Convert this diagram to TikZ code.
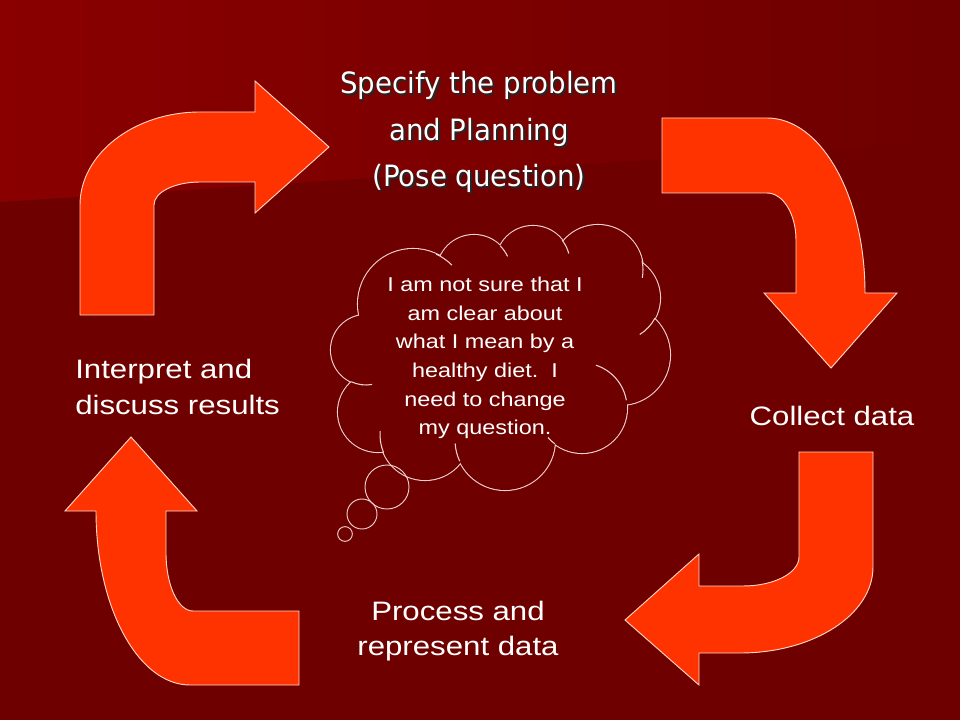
\documentclass[tikz,border=0pt]{standalone}
\usepackage{fontspec}
\setmainfont{Liberation Sans}
\newfontfamily\widesans[FakeStretch=1.17]{Liberation Sans}
\newfontfamily\cloudsans[FakeStretch=1.17]{Liberation Sans}
\newfontfamily\titlesans[FakeStretch=0.94]{DejaVu Sans}
\usepackage{xcolor}
\usepackage{tikz}
\definecolor{slidetop}{HTML}{8A0000}
\definecolor{slidebg}{HTML}{6E0000}
\definecolor{arrowfill}{HTML}{FF3300}
\definecolor{arrowedge}{HTML}{FFD5C8}
\definecolor{cloudedge}{HTML}{F2D2D2}

\begin{document}
\begin{tikzpicture}[x=0.75pt, y=-0.75pt,
    bentarrow/.style={fill=arrowfill, draw=arrowedge, line width=0.7pt},
    stage/.style={text=white, inner sep=0pt, font=\widesans\fontsize{20}{26.3}\selectfont},
    thought/.style={text=white, inner sep=0pt, align=center, font=\cloudsans\fontsize{15}{21.5}\selectfont},
    headline/.style={inner sep=0pt, align=center, font=\titlesans\fontsize{22}{34.9}\selectfont},
    bubble/.style={circle, draw=cloudedge, line width=0.7pt, inner sep=0pt}]
        \useasboundingbox (0,0) rectangle (960,720);
        \fill[slidebg] (0,0) rectangle (960,720);
        \shade[left color=slidetop, right color=slidebg] (0,0) -- (960,0) -- (960,140) -- (0,202) -- cycle;

        \draw[bentarrow] (80,315) -- (80,205) .. controls (80,154) and (134,112) .. (200,112) -- (255,112) -- (255,81) -- (329,147) -- (255,213) -- (255,182) -- (200,182) .. controls (175,182) and (154,192) .. (154,205) -- (154,315) -- cycle;
        \draw[bentarrow] (662,118) -- (767,118) .. controls (821,118) and (865,196) .. (865,293) -- (897,293) -- (831,368) -- (764,293) -- (796,293) -- (796,240) .. controls (796,214) and (783,193) .. (767,193) -- (662,193) -- cycle;
        \draw[bentarrow] (799,452) -- (873,452) -- (873,567) .. controls (873,615) and (813,653) .. (740,653) -- (699,653) -- (699,685) -- (625,620) -- (699,554) -- (699,586) -- (743,586) .. controls (774,586) and (799,573) .. (799,557) -- cycle;
        \draw[bentarrow] (299,611) -- (299,685) -- (190,685) .. controls (138,685) and (96,607) .. (96,511) -- (65,511) -- (131,437) -- (197,511) -- (166,511) -- (166,553) .. controls (166,585) and (178,611) .. (193,611) -- cycle;

        \foreach \cx/\cy/\r in {413/304/55, 366/350/35, 378/412/40, 425/435/45, 505/440/50, 582/408/45, 620/355/50, 617/298/43, 598/270/45, 533/263/37, 474/272/37}
            \draw[cloudedge, line width=1.6pt] (\cx,\cy) circle[radius=\r];
        \foreach \cx/\cy/\r in {413/304/55, 366/350/35, 378/412/40, 425/435/45, 505/440/50, 582/408/45, 620/355/50, 617/298/43, 598/270/45, 533/263/37, 474/272/37}
            \fill[slidebg] (\cx,\cy) circle[radius=\r];
        \fill[slidebg] (500,355) ellipse[x radius=120, y radius=85];
        \foreach \cx/\cy/\r/\a/\b in {582/408/45/-72/-10, 617/298/43/28/58, 366/350/35/115/80, 425/435/45/157/185, 505/440/50/155/176, 582/408/45/127/139, 598/270/45/-12/10, 533/263/37/-38/-15, 474/272/37/-45/-25, 413/304/55/-65/-45}
            \draw[cloudedge, line width=0.8pt] (\cx,\cy) ++(\a:\r) arc[start angle=\a, end angle=\b, radius=\r];

        \node[bubble, minimum size=33pt] (b1) at (387,487) {};
        \node[bubble, minimum size=22.5pt] (b2) at (362,514) {};
        \node[bubble, minimum size=11pt] (b3) at (345,534) {};

        \node[headline, text=black!85] (specshadow) at (481,134) {Specify the problem\\and Planning\\(Pose question)};
        \node[headline, text=white] (spec) at (479,132) {Specify the problem\\and Planning\\(Pose question)};
        \node[stage, anchor=west, align=left] (interp) at (75,387) {Interpret and\\discuss results};
        \node[stage] (collect) at (832,416) {Collect data};
        \node[stage, align=center] (process) at (458,631) {Process and\\represent data};
        \node[thought] (doubt) at (485,358) {I am not sure that I\\am clear about\\what I mean by a\\healthy diet.\ \ I\\need to change\\my question.};
      \end{tikzpicture}
\end{document}
